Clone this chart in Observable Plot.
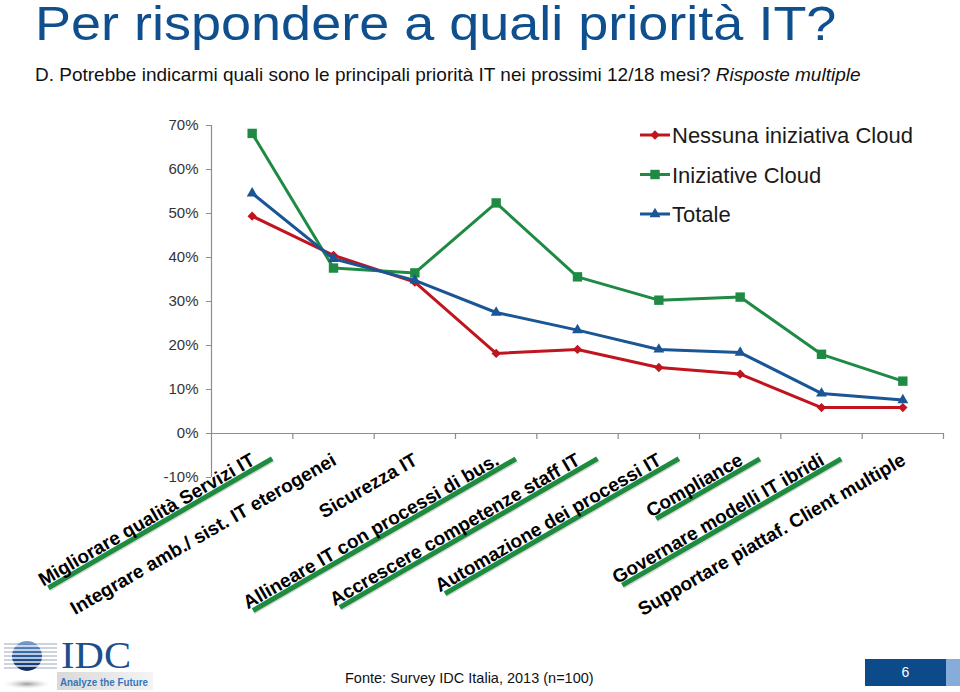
<!DOCTYPE html>
<html>
<head>
<meta charset="utf-8">
<script src="https://cdn.jsdelivr.net/npm/d3@7"></script>
<script src="https://cdn.jsdelivr.net/npm/@observablehq/plot@0.6"></script>
<style>
html, body { margin: 0; padding: 0; background: #fff; }
#page { position: relative; width: 960px; height: 692px; overflow: hidden; font-family: "Liberation Sans", Arial, sans-serif; }
.abs { position: absolute; white-space: nowrap; }
#title { left: 35px; top: 0px; font-size: 54px; line-height: 54px; color: #0F4F8E; transform: scaleY(0.88); transform-origin: 0 0; }
#subtitle { left: 35px; top: 65px; font-size: 19px; line-height: 19px; color: #111; }
#caption { left: 345px; top: 671px; font-size: 14.5px; line-height: 15px; color: #111; }
#pagebox { left: 865px; top: 659px; width: 81px; height: 27px; background: #0D4A8A; color: #fff; font-size: 14px; line-height: 27px; text-align: center; }
#pagestrip { left: 946px; top: 659px; width: 14px; height: 27px; background: #86ACDA; }
</style>
</head>
<body>
<div id="page">
  <div id="chart" class="abs" style="left:0;top:0"></div>
  <div id="title" class="abs">Per rispondere a quali priorità IT?</div>
  <div id="subtitle" class="abs">D. Potrebbe indicarmi quali sono le principali priorità IT nei prossimi 12/18 mesi? <i>Risposte multiple</i></div>
  <svg id="legend" class="abs" style="left:630px;top:115px" width="320" height="120"></svg>
  <svg id="logo" class="abs" style="left:0;top:626px" width="160" height="66">
    <defs>
      <linearGradient id="globeG" x1="0" y1="0" x2="0" y2="1">
        <stop offset="0" stop-color="#7FA3D4"/>
        <stop offset="0.45" stop-color="#2C5E9E"/>
        <stop offset="1" stop-color="#0A2A5E"/>
      </linearGradient>
      <radialGradient id="shadowG" cx="0.5" cy="0.5" r="0.5">
        <stop offset="0" stop-color="#9a9a9a"/>
        <stop offset="1" stop-color="#e6e6e6" stop-opacity="0"/>
      </radialGradient>
      <linearGradient id="tagG" x1="0" y1="0" x2="1" y2="0">
        <stop offset="0" stop-color="#d9d9d9"/>
        <stop offset="1" stop-color="#f4f4f4"/>
      </linearGradient>
    </defs>
    <ellipse cx="27" cy="58" rx="24" ry="5" fill="url(#shadowG)"/>
    <g stroke="#9aa8bb" stroke-width="1.2">
      <line x1="4" y1="18" x2="57" y2="18"/><line x1="4" y1="22" x2="57" y2="22"/>
      <line x1="4" y1="26" x2="57" y2="26"/><line x1="4" y1="30" x2="57" y2="30"/>
      <line x1="4" y1="34" x2="57" y2="34"/><line x1="4" y1="38" x2="57" y2="38"/>
      <line x1="4" y1="42" x2="57" y2="42"/>
    </g>
    <circle cx="27" cy="30" r="15" fill="url(#globeG)"/>
    <g stroke="#fff" stroke-width="1.3" opacity="0.9">
      <line x1="10" y1="20" x2="44" y2="20"/><line x1="10" y1="24" x2="44" y2="24"/>
      <line x1="10" y1="28" x2="44" y2="28"/><line x1="10" y1="32" x2="44" y2="32"/>
      <line x1="10" y1="36" x2="44" y2="36"/><line x1="10" y1="40" x2="44" y2="40"/>
    </g>
    <text x="61" y="42" font-family="'Liberation Serif', 'DejaVu Serif', serif" font-size="38" fill="#1B4F8C" textLength="70" lengthAdjust="spacingAndGlyphs">IDC</text>
    <rect x="57" y="46" width="96" height="18" fill="url(#tagG)"/>
    <text x="60" y="60" font-family="'Liberation Sans Narrow', 'Liberation Sans', sans-serif" font-weight="bold" font-size="11" fill="#3A75B8" textLength="88" lengthAdjust="spacingAndGlyphs">Analyze the Future</text>
  </svg>
  <div id="caption" class="abs">Fonte: Survey IDC Italia, 2013 (n=100)</div>
  <div id="pagebox" class="abs">6</div>
  <div id="pagestrip" class="abs"></div>
</div>
<script>
// ---- data ----
const categories = [
  "Migliorare qualità Servizi IT",
  "Integrare amb./ sist. IT eterogenei",
  "Sicurezza IT",
  "Allineare IT con processi di bus.",
  "Accrescere competenze staff IT",
  "Automazione dei processi IT",
  "Compliance",
  "Governare modelli IT ibridi",
  "Supportare piattaf. Client multiple"
];
const underlined = [true, false, false, true, true, true, true, true, false];
const seriesNames = ["Nessuna iniziativa Cloud", "Iniziative Cloud", "Totale"];
const nessuna    = [49.4, 40.5, 34.4, 18.2, 19.1, 15.0, 13.5, 5.9, 5.9];
const iniziative = [68.2, 37.6, 36.5, 52.4, 35.6, 30.3, 31.0, 18.0, 11.9];
const totale     = [54.6, 39.7, 34.8, 27.5, 23.5, 19.1, 18.4, 9.1, 7.6];
const yTicks = [-10, 0, 10, 20, 30, 40, 50, 60, 70];

// ---- styling ----
const colors = ["#C0141E", "#1F8A43", "#1A5596"];
const symbols = ["diamond2", "square", "triangle2"];
const radii = [4.2, 5.3, 5.2];

const values = [nessuna, iniziative, totale];
const table = values.flatMap((arr, s) => arr.map((v, i) => ({series: seriesNames[s], s, i, cat: categories[i], v})));
const boundaries = d3.range(1, categories.length + 1);

const seriesMarks = seriesNames.flatMap((name, s) => {
  const d = table.filter(r => r.s === s);
  return [
    Plot.line(d, {x: r => r.i + 0.5, y: "v", stroke: colors[s], strokeWidth: 3, strokeLinejoin: "round"}),
    Plot.dot(d, {x: r => r.i + 0.5, y: "v", symbol: symbols[s], r: radii[s], fill: colors[s], stroke: "none"})
  ];
});

const plot = Plot.plot({
  width: 960,
  height: 640,
  marginTop: 125,
  marginBottom: 163,
  marginLeft: 211,
  marginRight: 17,
  x: {type: "linear", domain: [0, categories.length], axis: null},
  y: {domain: [-10, 70], axis: null},
  style: {fontFamily: "'Liberation Sans', Arial, sans-serif", background: "transparent", overflow: "visible"},
  marks: [
    Plot.axisY({ticks: yTicks, tickFormat: d => `${d}%`, tickSize: 5, tickPadding: 8, fontSize: 15, stroke: "#8c8c8c", fill: "#333", label: null}),
    Plot.ruleX([0], {stroke: "#8c8c8c", strokeWidth: 1.2}),
    Plot.ruleY([0], {stroke: "#8c8c8c", strokeWidth: 1.2}),
    Plot.ruleX(boundaries, {y1: 0, y2: 0, insetBottom: -6, stroke: "#8c8c8c", strokeWidth: 1.2}),
    ...seriesMarks,
    Plot.text(categories, {
      x: (d, i) => i + 0.5, y: 0, text: d => d,
      rotate: -30, textAnchor: "end", lineAnchor: "middle",
      dx: 1, dy: 25, fontSize: 19, fontWeight: "bold", fill: "#000",
      ariaDescription: "category labels"
    })
  ]
});
document.getElementById("chart").append(plot);

// green underlines under selected category labels
const ns = "http://www.w3.org/2000/svg";
const labelG = plot.querySelector('g[aria-description="category labels"]') || plot.querySelector('g[aria-label="text"]');
if (labelG) {
  const ug = document.createElementNS(ns, "g");
  ug.setAttribute("transform", labelG.getAttribute("transform") || "");
  labelG.parentNode.insertBefore(ug, labelG);
  labelG.querySelectorAll("text").forEach((t, i) => {
    if (!underlined[i]) return;
    const b = t.getBBox();
    const tr = t.getAttribute("transform") || "";
    const yy = b.y + b.height - 0.5;
    const sh = document.createElementNS(ns, "line");
    sh.setAttribute("transform", tr);
    sh.setAttribute("x1", b.x + 4); sh.setAttribute("x2", b.x + b.width + 16);
    sh.setAttribute("y1", yy + 2); sh.setAttribute("y2", yy + 2);
    sh.setAttribute("stroke", "#bdbdbd"); sh.setAttribute("stroke-width", 4); sh.setAttribute("opacity", 0.6);
    ug.append(sh);
    const ln = document.createElementNS(ns, "line");
    ln.setAttribute("transform", tr);
    ln.setAttribute("x1", b.x + 4); ln.setAttribute("x2", b.x + b.width + 16);
    ln.setAttribute("y1", yy); ln.setAttribute("y2", yy);
    ln.setAttribute("stroke", "#1F8B3E"); ln.setAttribute("stroke-width", 5);
    ug.append(ln);
  });
}

// legend
const legend = d3.select("#legend");
const d3sym = {diamond2: d3.symbolDiamond2, square: d3.symbolSquare, triangle2: d3.symbolTriangle2};
seriesNames.forEach((name, s) => {
  const cy = 20 + s * 39.5;
  const g = legend.append("g");
  g.append("line").attr("x1", 10).attr("x2", 40).attr("y1", cy).attr("y2", cy)
    .attr("stroke", colors[s]).attr("stroke-width", 3);
  g.append("path").attr("transform", `translate(25,${cy})`)
    .attr("d", d3.symbol(d3sym[symbols[s]], Math.PI * radii[s] * radii[s])())
    .attr("fill", colors[s]);
  g.append("text").attr("x", 42).attr("y", cy + 8)
    .attr("font-family", "'Liberation Sans', Arial, sans-serif").attr("font-size", 22)
    .attr("fill", "#1a1a1a").text(name);
});
</script>
</body>
</html>
